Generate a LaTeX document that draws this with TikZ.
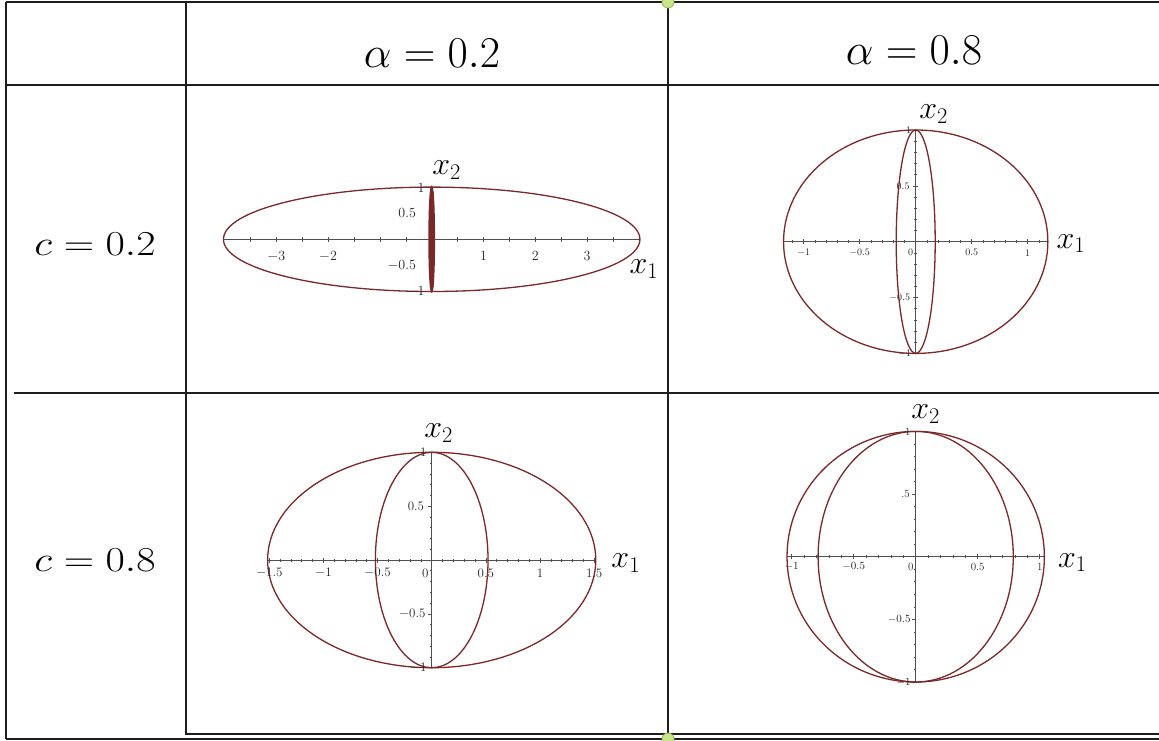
\RequirePackage{fix-cm}
\documentclass[tikz,border=0pt]{standalone}
\usepackage{fontspec}
\begin{document}
\definecolor{tline}{HTML}{1E1E1E}
\definecolor{axg}{HTML}{505050}
\definecolor{crv}{HTML}{7A2828}
\definecolor{dotfill}{HTML}{C9E58C}
\definecolor{dotdraw}{HTML}{93B556}
\tikzset{
  tableline/.style={draw=tline, line width=1.7pt},
  axisline/.style={draw=axg, line width=0.9pt},
  tickmark/.style={draw=axg, line width=0.6pt},
  curve/.style={draw=crv, line width=1.3pt},
  hdr/.style={font=\fontsize{44}{44}\selectfont, inner sep=0pt},
  rowlab/.style={font=\fontsize{35}{35}\selectfont, inner sep=0pt, xscale=1.2},
  axlab/.style={font=\fontsize{32}{32}\selectfont, inner sep=0pt},
  tl/.style={inner sep=0pt, text=black!85},
  greendot/.style={circle, fill=dotfill, draw=dotdraw, line width=0.8pt, minimum size=12pt, inner sep=0pt}
}
\begin{tikzpicture}[x=1pt,y=-1pt]
\useasboundingbox (0,0) rectangle (1159,741);
\fill[white] (0,0) rectangle (1159,741);
% table
\coordinate (tl) at (6,2);
\coordinate (tr) at (1159,2);
\coordinate (hl) at (6,85);
\coordinate (hr) at (1159,85);
\coordinate (rl) at (14,393);
\coordinate (rr) at (1159,393);
\coordinate (bl) at (6,739);
\coordinate (br) at (1159,739);
\coordinate (c1t) at (186,2);
\coordinate (c1b) at (186,734);
\coordinate (c2t) at (668,2);
\coordinate (c2b) at (668,734);
\coordinate (ibr) at (1159,734);
\draw[tableline] (tl) -- (tr);
\draw[tableline] (hl) -- (hr);
\draw[tableline] (rl) -- (rr);
\draw[tableline] (bl) -- (br);
\draw[tableline] (tl) -- (bl);
\draw[tableline] (c1t) -- (c1b) -- (ibr);
\draw[tableline] (c2t) -- (c2b);
\node[greendot] (dtop) at (668,2) {};
\node[greendot] (dbot) at (668,739) {};
% headers
\node[hdr] (h1) at (432,53) {$\alpha = 0.2$};
\node[hdr] (h2) at (914,50) {$\alpha = 0.8$};
\node[rowlab] (r1) at (95,244) {$c = 0.2$};
\node[rowlab] (r2) at (95,560) {$c = 0.8$};
% ---------- plot 1
\begin{scope}[shift={(431.7,239.3)}, x=51.8pt, y=52.2pt]
  \draw[axisline] (-4.02,0) coordinate (p1l) -- (4.02,0) coordinate (p1r);
  \draw[axisline] (0,-1) coordinate (p1b) -- (0,1) coordinate (p1t);
  \foreach \i in {-7,...,7} \draw[tickmark] (\i/2,0) ++(0,-2.5pt) -- ++(0,5pt);
  \foreach \i in {-10,...,10} \draw[tickmark] (0,\i/10) ++(-2pt,0) -- ++(4pt,0);
  \draw[curve] (0,0) ellipse [x radius=4.02, y radius=1];
  \fill[crv] (0,0) ellipse [x radius=0.05, y radius=1];
  \draw[curve, line width=1.6pt] (0,0) ellipse [x radius=0.05, y radius=1];
  \begin{scope}[every node/.style={tl, font=\fontsize{14}{14}\selectfont}]
    \node (p1xa) at ([yshift=-17pt]-3,0) {$-3$};
    \node (p1xb) at ([yshift=-17pt]-2,0) {$-2$};
    \node (p1xc) at ([yshift=-17pt]1,0) {1};
    \node (p1xd) at ([yshift=-17pt]2,0) {2};
    \node (p1xe) at ([yshift=-17pt]3,0) {3};
    \node[anchor=east] (p1ya) at ([xshift=-15.5pt]0,0.5) {0.5};
    \node[anchor=east] (p1yb) at ([xshift=-15.5pt]0,-0.5) {$-0.5$};
    \node[anchor=east] (p1yc) at ([xshift=-7pt,yshift=-1pt]0,1) {1};
    \node[anchor=east] (p1yd) at ([xshift=-7pt]0,-1) {$-1$};
  \end{scope}
  \node[axlab] (p1x2) at ([xshift=15pt,yshift=17pt]0,1) {$x_2$};
  \node[axlab] (p1x1) at ([xshift=4pt,yshift=-30pt]4.02,0) {$x_1$};
\end{scope}
% ---------- plot 2
\begin{scope}[shift={(915.7,241.7)}, x=112pt, y=111.7pt]
  \draw[axisline] (-1.18,0) coordinate (p2l) -- (1.18,0) coordinate (p2r);
  \draw[axisline] (0,-1) coordinate (p2b) -- (0,1) coordinate (p2t);
  \foreach \i in {-11,...,11} \draw[tickmark] (\i/10,0) ++(0,-1.5pt) -- ++(0,3pt);
  \foreach \i in {-2,...,2} \draw[tickmark] (\i/2,0) ++(0,-2.5pt) -- ++(0,5pt);
  \foreach \i in {-10,...,10} \draw[tickmark] (0,\i/10) ++(-1.5pt,0) -- ++(3pt,0);
  \foreach \i in {-2,...,2} \draw[tickmark] (0,\i/2) ++(-2.5pt,0) -- ++(5pt,0);
  \draw[curve] (0,0) ellipse [x radius=1.18, y radius=1];
  \draw[curve] (0,0) ellipse [x radius=0.174, y radius=1];
  \begin{scope}[every node/.style={tl, font=\fontsize{10}{10}\selectfont}]
    \node (p2xa) at ([yshift=-11pt]-1,0) {$-1$};
    \node (p2xb) at ([yshift=-11pt]-0.5,0) {$-0.5$};
    \node (p2xc) at ([xshift=-5pt,yshift=-11pt]0,0) {0};
    \node (p2xd) at ([yshift=-11pt]0.5,0) {0.5};
    \node (p2xe) at ([yshift=-11pt]1,0) {1};
    \node[anchor=east] (p2ya) at ([xshift=-6pt]0,0.5) {0.5};
    \node[anchor=east] (p2yb) at ([xshift=-5.5pt]0,-0.5) {$-0.5$};
    \node[anchor=east] (p2yc) at ([xshift=-4.5pt]0,1) {1};
    \node[anchor=east] (p2yd) at ([xshift=-4.5pt]0,-1) {$-1$};
  \end{scope}
  \node[axlab] (p2x2) at ([xshift=18pt,yshift=16pt]0,1) {$x_2$};
  \node[axlab] (p2x1) at ([xshift=23pt,yshift=-2pt]1.18,0) {$x_1$};
\end{scope}
% ---------- plot 3
\begin{scope}[shift={(431.7,560)}, x=108.3pt, y=107.7pt]
  \draw[axisline] (-1.515,0) coordinate (p3l) -- (1.515,0) coordinate (p3r);
  \draw[axisline] (0,-1) coordinate (p3b) -- (0,1) coordinate (p3t);
  \foreach \i in {-15,...,15} \draw[tickmark] (\i/10,0) ++(0,-1.5pt) -- ++(0,3pt);
  \foreach \i in {-3,...,3} \draw[tickmark] (\i/2,0) ++(0,-2.5pt) -- ++(0,5pt);
  \foreach \i in {-10,...,10} \draw[tickmark] (0,\i/10) ++(-2pt,0) -- ++(2pt,0);
  \foreach \i in {-2,...,2} \draw[tickmark] (0,\i/2) ++(-4pt,0) -- ++(4pt,0);
  \draw[curve] (0,0) ellipse [x radius=1.515, y radius=1];
  \draw[curve] (0,0) ellipse [x radius=0.52, y radius=1];
  \begin{scope}[every node/.style={tl, font=\fontsize{13}{13}\selectfont}]
    \node (p3xa) at ([yshift=-13.3pt]-1.5,0) {$-1.5$};
    \node (p3xb) at ([yshift=-13.3pt]-1,0) {$-1$};
    \node (p3xc) at ([yshift=-13.3pt]-0.5,0) {$-0.5$};
    \node (p3xd) at ([xshift=-6.4pt,yshift=-13.3pt]0,0) {0};
    \node (p3xe) at ([yshift=-13.3pt]0.5,0) {0.5};
    \node (p3xf) at ([yshift=-13.3pt]1,0) {1};
    \node (p3xg) at ([yshift=-13.3pt]1.5,0) {1.5};
    \node[anchor=east] (p3ya) at ([xshift=-7.4pt]0,0.5) {0.5};
    \node[anchor=east] (p3yb) at ([xshift=-6pt]0,-0.5) {$-0.5$};
    \node[anchor=east] (p3yc) at ([xshift=-5pt]0,1) {1};
    \node[anchor=east] (p3yd) at ([xshift=-5pt]0,-1) {$-1$};
  \end{scope}
  \node[axlab] (p3x2) at ([xshift=7pt,yshift=19pt]0,1) {$x_2$};
  \node[axlab] (p3x1) at ([xshift=30pt,yshift=-3pt]1.515,0) {$x_1$};
\end{scope}
% ---------- plot 4
\begin{scope}[shift={(915.7,556.7)}, x=124pt, y=125.3pt]
  \draw[axisline] (-1.0375,0) coordinate (p4l) -- (1.0375,0) coordinate (p4r);
  \draw[axisline] (0,-1) coordinate (p4b) -- (0,1) coordinate (p4t);
  \foreach \i in {-10,...,10} \draw[tickmark] (\i/10,0) ++(0,-1.5pt) -- ++(0,3pt);
  \foreach \i in {-2,...,2} \draw[tickmark] (\i/2,0) ++(0,-2.5pt) -- ++(0,5pt);
  \foreach \i in {-10,...,10} \draw[tickmark] (0,\i/10) ++(-2pt,0) -- ++(2pt,0);
  \foreach \i in {-2,...,2} \draw[tickmark] (0,\i/2) ++(-4pt,0) -- ++(4pt,0);
  \draw[curve] (0,0) ellipse [x radius=1.0375, y radius=1];
  \draw[curve] (0,0) ellipse [x radius=0.787, y radius=1];
  \begin{scope}[every node/.style={tl, font=\fontsize{11}{11}\selectfont}]
    \node (p4xa) at ([yshift=-10pt]-1,0) {$-1$};
    \node (p4xb) at ([yshift=-10pt]-0.5,0) {$-0.5$};
    \node (p4xc) at ([xshift=-5pt,yshift=-10pt]0,0) {0};
    \node (p4xd) at ([yshift=-10pt]0.5,0) {0.5};
    \node (p4xe) at ([yshift=-10pt]1,0) {1};
    \node[anchor=east] (p4ya) at ([xshift=-5.7pt]0,0.5) {.5};
    \node[anchor=east] (p4yb) at ([xshift=-5pt]0,-0.5) {$-0.5$};
    \node[anchor=east] (p4yc) at ([xshift=-5pt]0,1) {1};
    \node[anchor=east] (p4yd) at ([xshift=-5pt]0,-1) {$-1$};
  \end{scope}
  \node[axlab] (p4x2) at ([xshift=10pt,yshift=17pt]0,1) {$x_2$};
  \node[axlab] (p4x1) at ([xshift=28pt,yshift=-6pt]1.0375,0) {$x_1$};
\end{scope}
\end{tikzpicture}
\end{document}
